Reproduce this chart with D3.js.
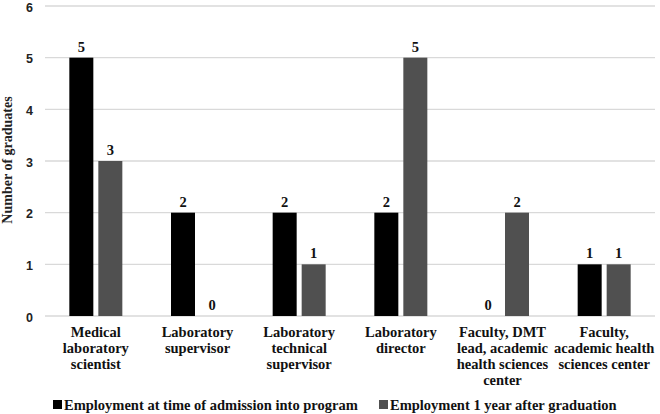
<!DOCTYPE html>
<html><head><meta charset="utf-8">
<script src="https://cdn.jsdelivr.net/npm/d3@7"></script>
<style>body{margin:0;background:#fff}svg{display:block}</style>
</head><body>
<svg id="c" width="660" height="414"></svg>
<script>
const categories = [
  ["Medical","laboratory","scientist"],
  ["Laboratory","supervisor"],
  ["Laboratory","technical","supervisor"],
  ["Laboratory","director"],
  ["Faculty, DMT","lead, academic","health sciences","center"],
  ["Faculty,","academic health","sciences center"]
];
const seriesNames = ["Employment at time of admission into program","Employment 1 year after graduation"];
const admission = [5,2,2,2,0,1];
const afterGrad = [3,0,1,5,2,1];
const yTicks = [0,1,2,3,4,5,6];
const colors = ["#000000","#505050"];

const svg = d3.select("#c");
const L = 45, R = 655, T = 6, B = 316;
const x = d3.scaleBand().domain(d3.range(categories.length)).range([L,R]).paddingInner(0).paddingOuter(0);
const y = d3.scaleLinear().domain([0,6]).range([B,T]);
const bw = 24, gap = 5;

// gridlines
svg.append("g").selectAll("line").data(yTicks).join("line")
  .attr("x1",L).attr("x2",R).attr("y1",d=>y(d)).attr("y2",d=>y(d))
  .attr("stroke","#d9d9d9").attr("stroke-width",1.3);

// y tick labels
svg.append("g").selectAll("text").data(yTicks).join("text")
  .attr("x",33).attr("y",d=>y(d)+5.6).attr("text-anchor","end")
  .attr("font-family","'Liberation Sans', Arial, sans-serif").attr("font-weight","bold").attr("font-size",12.5)
  .attr("fill","#222").text(d=>d);

// y title
svg.append("text").attr("transform","translate(12,160) rotate(-90)")
  .attr("text-anchor","middle").attr("font-family","'Liberation Serif', serif")
  .attr("font-weight","bold").attr("font-size",14).attr("fill","#222").text("Number of graduates");

const series = [admission, afterGrad];
series.forEach((vals,si)=>{
  const g = svg.append("g");
  const xOff = i => x(i) + x.bandwidth()/2 + (si===0 ? -(gap/2+bw) : gap/2);
  g.selectAll("rect").data(vals).join("rect")
    .attr("x",(d,i)=>xOff(i)).attr("width",bw)
    .attr("y",d=>y(d)).attr("height",d=>B-y(d)).attr("fill",colors[si]);
  g.selectAll("text").data(vals).join("text")
    .attr("x",(d,i)=>xOff(i)+bw/2).attr("y",d=>y(d)-6).attr("text-anchor","middle")
    .attr("font-family","'Liberation Serif', serif").attr("font-weight","bold").attr("font-size",14.5)
    .attr("fill","#111").text(d=>d);
});

// category labels
const cg = svg.append("g");
categories.forEach((lines,i)=>{
  const t = cg.append("text").attr("text-anchor","middle")
    .attr("font-family","'Liberation Serif', serif").attr("font-weight","bold").attr("font-size",14.5).attr("fill","#111");
  lines.forEach((ln,j)=>{
    t.append("tspan").attr("x",x(i)+x.bandwidth()/2).attr("y",337+j*16).text(ln);
  });
});

// legend
const legX = [53,379];
seriesNames.forEach((n,i)=>{
  svg.append("rect").attr("x",legX[i]).attr("y",400).attr("width",9).attr("height",9).attr("fill",colors[i]);
  svg.append("text").attr("x",legX[i]+11).attr("y",409.5)
    .attr("font-family","'Liberation Serif', serif").attr("font-weight","bold").attr("font-size",14.5)
    .attr("fill","#111").text(n);
});
</script>
</body></html>
